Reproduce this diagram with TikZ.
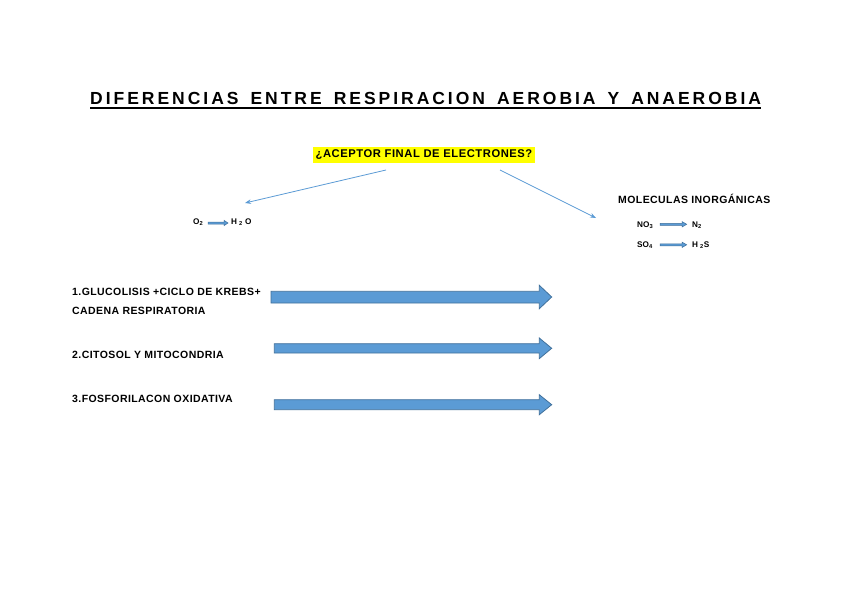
\documentclass[tikz,border=0pt]{standalone}
\usepackage{fontspec}
\setmainfont{Liberation Sans}
\usetikzlibrary{arrows.meta}
\definecolor{blockfill}{RGB}{91,155,213}
\definecolor{blockline}{RGB}{65,113,156}
\definecolor{thinblue}{RGB}{91,155,213}
\definecolor{hl}{RGB}{255,255,0}
\newcommand\mytitlefont{\fontsize{17.5}{20}\selectfont\bfseries\addfontfeature{LetterSpace=17}\spaceskip=12pt\relax}
\tikzset{
  lbl/.style={anchor=base west,inner sep=0pt,font=\fontsize{10.5}{12}\selectfont\bfseries\addfontfeature{LetterSpace=4}},
  formula/.style={anchor=base west,inner sep=0pt,font=\fontsize{8.2}{9}\selectfont\bfseries},
  blockarrow/.style={fill=blockfill,draw=blockline,line width=0.8pt,line join=miter},
  minarrow/.style={fill=blockfill,draw=blockline,line width=0.5pt},
  thin/.style={draw=thinblue,line width=0.8pt,-{Stealth[length=6pt,width=4.5pt]}}
}
\begin{document}
\begin{tikzpicture}[x=1pt,y=-1pt]
\useasboundingbox (0,0) rectangle (848,599);
\fill[white] (0,0) rectangle (848,599);
% title
\node[anchor=base west,inner sep=0pt] (title) at (90,104.7) {\mytitlefont DIFERENCIAS ENTRE RESPIRACION AEROBIA Y ANAEROBIA};
\draw[line width=1.5pt] ([yshift=-3.4pt]title.base west) -- ([yshift=-3.4pt]title.base east);
% question
\node[fill=hl,inner xsep=2.5pt,inner ysep=0pt,minimum height=16pt,font=\fontsize{11.2}{13}\selectfont\bfseries\addfontfeature{LetterSpace=5}] (q) at (424,154.7) {¿ACEPTOR FINAL DE ELECTRONES?};
\coordinate (qL) at (386,170);
\coordinate (qR) at (500,170);
\coordinate (tL) at (245,203);
\coordinate (tR) at (596,218);
\draw[thin] (qL) -- (tL);
\draw[thin] (qR) -- (tR);
% aerobic formula
\node[formula] (o2) at (193,224.5) {O\textsubscript{2}};
\draw[minarrow] (208,222) -- (224,222) -- (224,220.3) -- (228,223) -- (224,225.7) -- (224,224) -- (208,224) -- cycle;
\node[formula] (h2o) at (231,224.5) {H\hspace{2pt}\textsubscript{2}\hspace{2.4pt}O};
% anaerobic
\node[lbl] (mol) at (618,203.8) {MOLECULAS INORGÁNICAS};
\node[formula] (no3) at (637,227.2) {NO\textsubscript{3}};
\draw[minarrow] (660,223.3) -- (682,223.3) -- (682,221.6) -- (686.7,224.3) -- (682,227) -- (682,225.3) -- (660,225.3) -- cycle;
\node[formula] (n2) at (692,227.2) {N\textsubscript{2}};
\node[formula] (so4) at (637,247.7) {SO\textsubscript{4}};
\draw[minarrow] (660,243.8) -- (682,243.8) -- (682,242.1) -- (686.7,244.8) -- (682,247.5) -- (682,245.8) -- (660,245.8) -- cycle;
\node[formula] (h2s) at (692,247.7) {H\hspace{2pt}\textsubscript{2}S};
% left labels
\node[lbl] (l1) at (72,295) {1.GLUCOLISIS +CICLO DE KREBS+};
\node[lbl] (l1b) at (72,314.3) {CADENA RESPIRATORIA};
\node[lbl] (l2) at (72,358.6) {2.CITOSOL Y MITOCONDRIA};
\node[lbl] (l3) at (72,402) {3.FOSFORILACON OXIDATIVA};
% block arrows
\draw[blockarrow] (271,291.3) -- (539.3,291.3) -- (539.3,285.3) -- (551.7,297) -- (539.3,308.7) -- (539.3,303) -- (271,303) -- cycle;
\draw[blockarrow] (274.3,343.7) -- (539.3,343.7) -- (539.3,338) -- (551.7,348.3) -- (539.3,358.6) -- (539.3,353) -- (274.3,353) -- cycle;
\draw[blockarrow] (274.3,399.7) -- (539.3,399.7) -- (539.3,394.7) -- (551.7,404.7) -- (539.3,414.7) -- (539.3,409.7) -- (274.3,409.7) -- cycle;
\end{tikzpicture}
\end{document}
